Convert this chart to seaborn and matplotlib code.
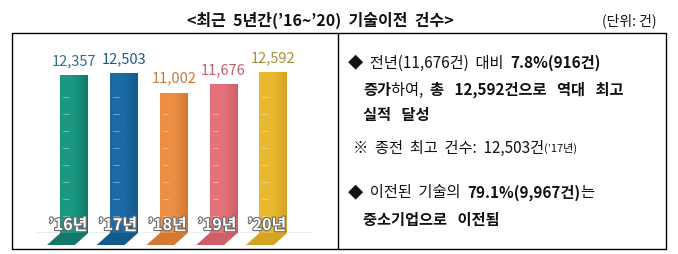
import numpy as np
import pandas as pd
import matplotlib
matplotlib.use("Agg")
import matplotlib.pyplot as plt
import matplotlib.patheffects as pe
from matplotlib.patches import Polygon
from matplotlib.lines import Line2D
from matplotlib.colors import LinearSegmentedColormap
import seaborn as sns

# ---- data ----
years = ["’16년", "’17년", "’18년", "’19년", "’20년"]
counts = [12357, 12503, 11002, 11676, 12592]
count_labels = ["12,357", "12,503", "11,002", "11,676", "12,592"]
bar_colors = ["#1a9882", "#1c6aa6", "#ec8f45", "#e5727a", "#e9b930"]
bar_dark = ["#11786a", "#125a8c", "#d47832", "#d05e68", "#d6a224"]
label_colors = ["#2e6f80", "#1d5c86", "#cc7a3a", "#c2616b", "#a38f38"]
title = "<최근  5년간(’16~’20)  기술이전  건수>"
unit = "(단위: 건)"

sns.set_theme(style="white")
plt.rcParams['font.family'] = ['Noto Sans CJK KR', 'DejaVu Sans']

W, H = 678, 254
fig = plt.figure(figsize=(W / 100, H / 100), dpi=100)
fig.patch.set_facecolor("white")

def fx(px):
    return px / W

def fy(py):
    return 1 - py / H

# bar axes
base_py = 233
top_py = 40
ax = fig.add_axes([fx(37), fy(base_py), fx(310.6) - fx(37), (base_py - top_py) / H])
df = pd.DataFrame({"year": years, "count": counts})
sns.barplot(data=df, x="year", y="count", hue="year", palette=bar_colors,
            legend=False, width=0.56, ax=ax, saturation=1)
ax.set_xlim(-0.75, 4.75)
ax.set_ylim(0, (base_py - top_py) / 0.01277)
ax.axis("off")
ax.axhline(0, color="#9a9a9a", lw=1.0, zorder=0.5)

unit_y = ax.get_ylim()[1] / (base_py - top_py)  # data units per pixel
for i, p in enumerate(ax.patches[:5]):
    x0, w, h = p.get_x(), p.get_width(), p.get_height()
    cmap = LinearSegmentedColormap.from_list("g", [bar_colors[i], bar_colors[i], bar_dark[i]])
    grad = np.linspace(0, 1, 50).reshape(1, -1)
    im = ax.imshow(grad, extent=[x0, x0 + w, 0, h], aspect="auto", cmap=cmap, zorder=2)
    im.set_clip_path(p)
    for ty in np.arange(17, h / unit_y - 15, 17) * unit_y:
        ax.plot([x0 + 0.06, x0 + 0.17], [ty, ty], color="white", alpha=0.35, lw=0.8, zorder=3)
    shift = 0.27
    dep = 12 * unit_y
    poly = Polygon([(x0, 0), (x0 + w, 0), (x0 + w - shift, -dep), (x0 - shift, -dep)],
                   closed=True, facecolor=bar_dark[i], edgecolor="none", clip_on=False, zorder=1)
    ax.add_patch(poly)
    ax.text(x0 + w / 2, h + 7 * unit_y, count_labels[i], ha="center", va="bottom",
            fontsize=10.5, color=label_colors[i], clip_on=False, zorder=4)
    ax.text(x0 + w - 0.02, 3 * unit_y, years[i], ha="right", va="baseline",
            fontsize=11.5, color="white", fontweight="bold", zorder=5,
            path_effects=[pe.withStroke(linewidth=1.6, foreground="#6b6b6b")])

# box
for (x1, y1, x2, y2) in [(12, 33, 666, 33), (12, 249, 666, 249), (12, 33, 12, 249),
                         (666, 33, 666, 249), (338, 33, 338, 249)]:
    fig.add_artist(Line2D([fx(x1), fx(x2)], [fy(y1), fy(y2)], color="black", lw=1.0))

fig.text(fx(320), fy(20), title, ha="center", va="center", fontsize=11.5, fontweight="bold", color="#111111")
fig.text(fx(657), fy(21), unit, ha="right", va="center", fontsize=10, color="#111111")

fig.canvas.draw()
renderer = fig.canvas.get_renderer()

def segs(x_px, y_px, parts):
    x = x_px
    for txt, wt, fs in parts:
        gap = "   " if wt == "bold" else "  "
        t = fig.text(fx(x), fy(y_px), txt.replace(" ", gap), ha="left", va="center",
                     fontsize=fs, fontweight=wt, color="#111111")
        bb = t.get_window_extent(renderer)
        x += bb.width

F = 11
segs(348, 63, [("◆", "normal", F), ("\u00a0\u00a0전년(11,676건) 대비 ", "normal", F), ("7.8%(916건)", "bold", F)])
segs(363, 90, [("증가", "bold", F), ("하여, ", "normal", F), ("총 12,592건으로 역대 최고", "bold", F)])
segs(363, 115, [("실적 달성", "bold", F)])
segs(353, 148, [("※ 종전 최고 건수: 12,503건", "normal", F), ("(’17년)", "normal", 8)])
segs(348, 193, [("◆", "normal", F), ("\u00a0\u00a0이전된 기술의 ", "normal", F), ("79.1%(9,967건)", "bold", F), ("는", "normal", F)])
segs(363, 220, [("중소기업으로 이전됨", "bold", F)])

fig.savefig("out.png", dpi=100)
